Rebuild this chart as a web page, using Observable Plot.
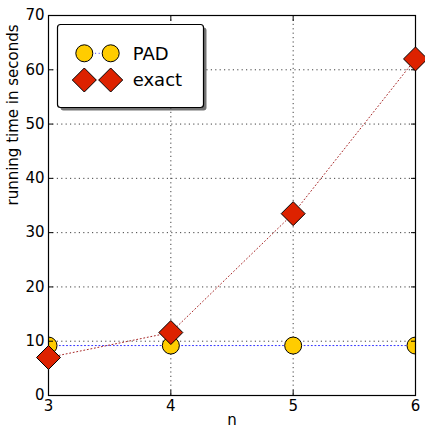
<!DOCTYPE html>
<html><head><meta charset="utf-8">
<script src="https://cdn.jsdelivr.net/npm/d3@7"></script>
<script src="https://cdn.jsdelivr.net/npm/@observablehq/plot@0.6"></script>
<style>body{margin:0;background:#fff} #chart svg{display:block}</style>
</head><body><div id="chart"></div>
<script>
const n = [3, 4, 5, 6];
const padTimes = [9.2, 9.2, 9.2, 9.2];
const exactTimes = [7.0, 11.6, 33.5, 62.0];
const xTicks = [3, 4, 5, 6];
const yTicks = [0, 10, 20, 30, 40, 50, 60, 70];
const seriesNames = ["PAD", "exact"];
const xLabel = "n";
const yLabel = "running time in seconds";

const pad = n.map((v, i) => ({n: v, t: padTimes[i]}));
const exact = n.map((v, i) => ({n: v, t: exactTimes[i]}));

const padFill = "#ffcc00", exactFill = "#dd2200";
const padLine = "#3333ff", exactLine = "#a82828";
const dash = "1,2.6";

const chart = Plot.plot({
  width: 425, height: 428,
  marginLeft: 48, marginRight: 10, marginTop: 15, marginBottom: 33,
  style: {fontFamily: "DejaVu Sans", fontSize: "15px", color: "black", background: "white"},
  x: {domain: [3, 6]},
  y: {domain: [0, 70]},
  marks: [
    Plot.gridX(xTicks, {stroke: "black", strokeOpacity: 0.75, strokeDasharray: "1.2,3.2"}),
    Plot.gridY(yTicks, {stroke: "black", strokeOpacity: 0.75, strokeDasharray: "1.2,3.2"}),
    Plot.line(pad, {x: "n", y: "t", stroke: padLine, strokeWidth: 1, strokeDasharray: dash}),
    Plot.line(exact, {x: "n", y: "t", stroke: exactLine, strokeWidth: 1, strokeDasharray: dash}),
    Plot.dot(pad, {x: "n", y: "t", r: 8.5, fill: padFill, stroke: "black", strokeWidth: 1, clip: true}),
    Plot.frame({stroke: "black", strokeWidth: 1.2}),
    Plot.axisX(xTicks, {anchor: "bottom", tickSize: -5, tickPadding: 10, tickFormat: "d", label: null}),
    Plot.axisX(xTicks, {anchor: "top", tickSize: -5, tickFormat: () => "", label: null}),
    Plot.axisY(yTicks, {anchor: "left", tickSize: -5, tickPadding: 9, tickFormat: "d", label: null}),
    Plot.axisY(yTicks, {anchor: "right", tickSize: -5, tickFormat: () => "", label: null}),
    Plot.dot(exact, {x: "n", y: "t", symbol: "diamond2", r: 10.8, fill: exactFill, stroke: "black", strokeWidth: 1}),
    Plot.text([xLabel], {frameAnchor: "bottom", dy: 29, fontSize: 15}),
    Plot.text([yLabel], {frameAnchor: "left", dx: -35.5, rotate: -90, fontSize: 15})
  ]
});
document.getElementById("chart").appendChild(chart);

// Legend (inside the axes, upper left, with shadow)
const svg = d3.select(chart);
const lg = svg.append("g").attr("font-family", "DejaVu Sans").attr("font-size", 18);
lg.append("rect").attr("x", 60.5).attr("y", 27.5).attr("width", 146).attr("height", 83).attr("rx", 3)
  .attr("fill", "black").attr("fill-opacity", 0.55);
lg.append("rect").attr("x", 57.5).attr("y", 24.5).attr("width", 146).attr("height", 83).attr("rx", 3)
  .attr("fill", "white").attr("stroke", "black").attr("stroke-width", 1.2);
const entries = [
  {name: seriesNames[0], y: 53.3, kind: "circle", fill: padFill, line: padLine},
  {name: seriesNames[1], y: 80, kind: "diamond", fill: exactFill, line: exactLine}
];
const mx = [84.3, 110.7];
for (const e of entries) {
  lg.append("line").attr("x1", mx[0]).attr("x2", mx[1]).attr("y1", e.y).attr("y2", e.y)
    .attr("stroke", e.line).attr("stroke-width", 1).attr("stroke-dasharray", dash);
  for (const x of mx) {
    if (e.kind === "circle") {
      lg.append("circle").attr("cx", x).attr("cy", e.y).attr("r", 8.5)
        .attr("fill", e.fill).attr("stroke", "black");
    } else {
      const r = 12;
      lg.append("path").attr("d", `M${x},${e.y - r}L${x + r},${e.y}L${x},${e.y + r}L${x - r},${e.y}Z`)
        .attr("fill", e.fill).attr("stroke", "black");
    }
  }
  lg.append("text").attr("x", 132.7).attr("y", e.y + 6.4).attr("fill", "black")
    .attr("text-anchor", "start").text(e.name);
}
</script>
</body></html>
